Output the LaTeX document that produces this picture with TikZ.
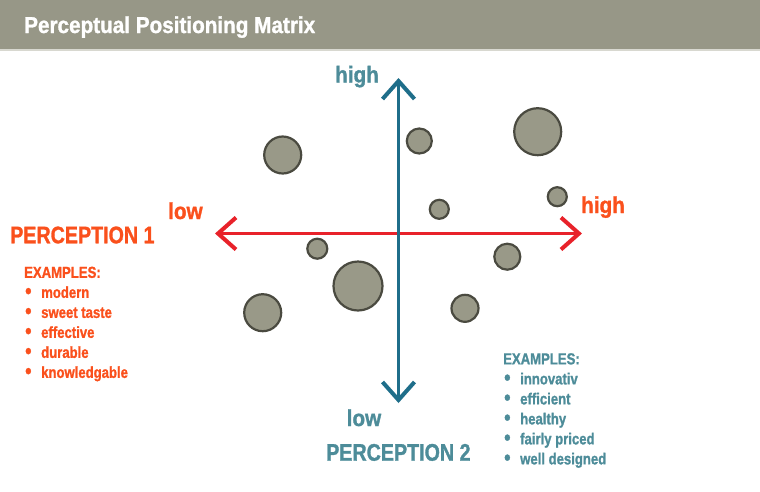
\documentclass[tikz,border=0pt]{standalone}
\usepackage{fontspec}
\setmainfont{Liberation Sans}[FakeStretch=0.82, BoldFeatures={FakeBold=1.2}]
\newfontfamily\titlefont{Liberation Sans}[FakeStretch=0.9, BoldFeatures={FakeBold=1.2}]
\usepackage{xcolor}
\usetikzlibrary{arrows.meta, positioning}

\definecolor{headgray}{HTML}{979787}
\definecolor{headline}{HTML}{D8D8D0}
\definecolor{perconeorange}{HTML}{FA501C}
\definecolor{axisred}{HTML}{E8222A}
\definecolor{perctwoblue}{HTML}{4D8C99}
\definecolor{axisblue}{HTML}{1F6E8A}
\definecolor{bubblefill}{HTML}{999988}
\definecolor{bubblerim}{HTML}{4A4A40}

\newcommand{\exbullet}{\makebox[17pt][l]{\hspace*{1pt}\raisebox{-0.5pt}{\fontsize{22}{20}\selectfont\textbullet}}}

\begin{document}
\begin{tikzpicture}[
    x=1pt, y=-1pt,
    bubble/.style={circle, draw=bubblerim, fill=bubblefill, line width=2.2pt, inner sep=0pt},
    titlelbl/.style={anchor=base west, inner sep=0pt, text=white, font=\titlefont\bfseries\fontsize{23}{26}\selectfont},
    endlbl/.style={anchor=base west, inner sep=0pt, font=\titlefont\bfseries\fontsize{23}{26}\selectfont},
    perclbl/.style={anchor=base west, inner sep=0pt, font=\bfseries\fontsize{24}{28}\selectfont},
    exlist/.style={anchor=north west, inner sep=0pt, align=left, font=\bfseries\fontsize{16}{20}\selectfont},
    axis/.style={line width=3.5pt, line cap=round, <->, >={Straight Barb[length=18pt, width=32pt, line width=4pt]}}
]
    \useasboundingbox (0,0) rectangle (760,491);

    % header bar
    \fill[headgray] (0,0) rectangle (760,49);
    \fill[headline] (0,49) rectangle (760,51);
    \node (title) at (24,33) [titlelbl] {Perceptual Positioning Matrix};

    % bubbles
    \node (b1)  at (282.7,155)   [bubble, minimum size=37pt] {};
    \node (b2)  at (419.3,141)   [bubble, minimum size=25pt] {};
    \node (b3)  at (537.7,131.7) [bubble, minimum size=47pt] {};
    \node (b4)  at (557.3,196.7) [bubble, minimum size=19pt] {};
    \node (b5)  at (439.3,209.3) [bubble, minimum size=19pt] {};
    \node (b6)  at (317.3,248.7) [bubble, minimum size=20pt] {};
    \node (b7)  at (507.3,256.7) [bubble, minimum size=26pt] {};
    \node (b8)  at (358,286)     [bubble, minimum size=49pt] {};
    \node (b9)  at (262.7,312.7) [bubble, minimum size=37pt] {};
    \node (b10) at (465,308.3)   [bubble, minimum size=27pt] {};

    % axes
    \coordinate (xlow)  at (215,233.5);
    \coordinate (xhigh) at (582,233.5);
    \coordinate (yhigh) at (398.5,78);
    \coordinate (ylow)  at (398.5,403);
    \draw[axis, draw=axisred] (xlow) -- (xhigh);
    \draw[axis, draw=axisblue] (ylow) -- (yhigh);

    % perception 1 (horizontal)
    \node (p1low)  at (168,219)   [endlbl, text=perconeorange] {low};
    \node (p1high) at (581,213)   [endlbl, text=perconeorange] {high};
    \node (p1name) at (10,243.3)  [perclbl, text=perconeorange] {PERCEPTION 1};
    \node (p1ex)   at (24,266.5)  [exlist, text=perconeorange] {EXAMPLES:\\
        \exbullet modern\\
        \exbullet sweet taste\\
        \exbullet effective\\
        \exbullet durable\\
        \exbullet knowledgable};

    % perception 2 (vertical)
    \node (p2high) at (335,82.5)  [endlbl, text=perctwoblue] {high};
    \node (p2low)  at (346.5,426) [endlbl, text=perctwoblue] {low};
    \node (p2name) at (326,460.7) [perclbl, text=perctwoblue] {PERCEPTION 2};
    \node (p2ex)   at (503,353)   [exlist, text=perctwoblue] {EXAMPLES:\\
        \exbullet innovativ\\
        \exbullet efficient\\
        \exbullet healthy\\
        \exbullet fairly priced\\
        \exbullet well designed};
\end{tikzpicture}
\end{document}
